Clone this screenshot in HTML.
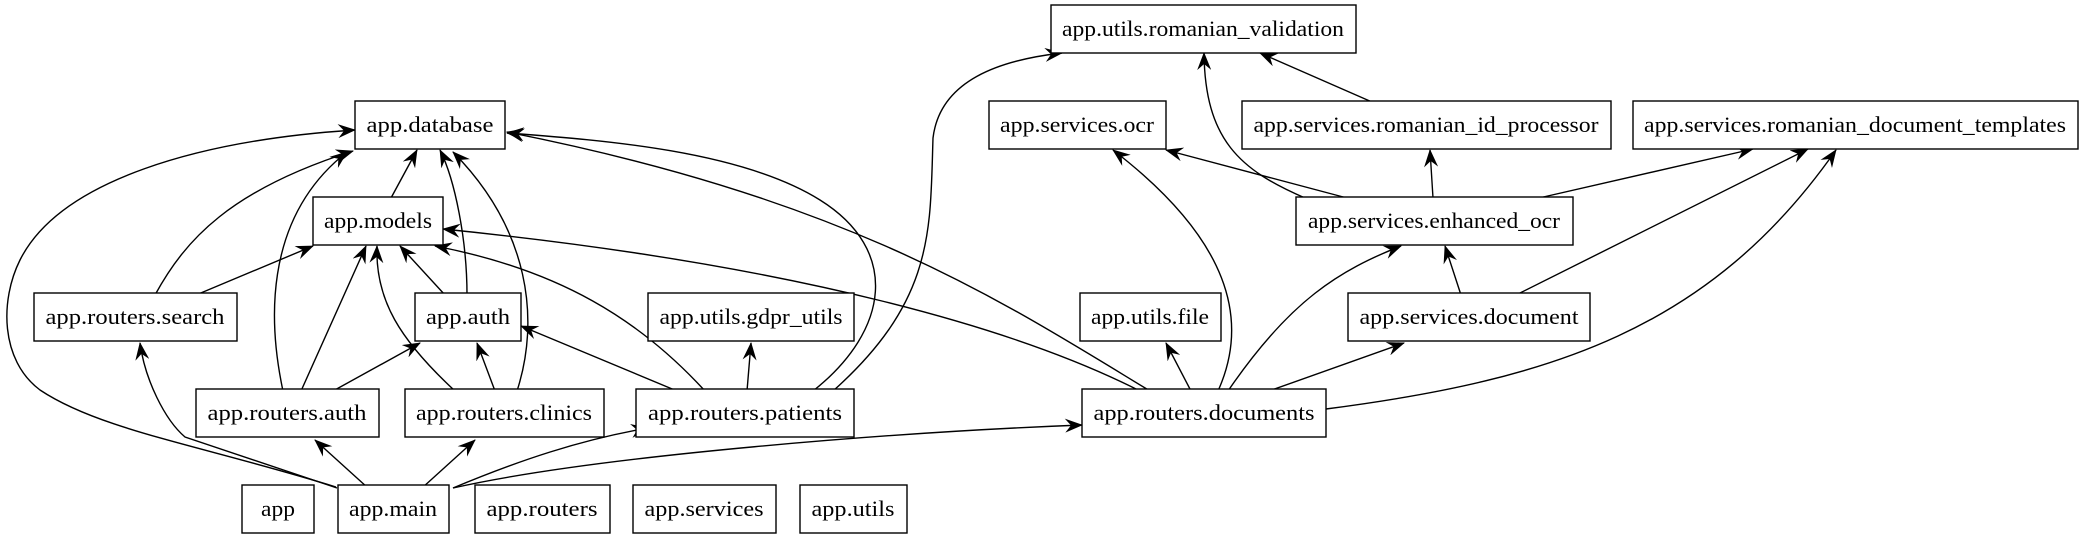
<!DOCTYPE html>
<html><head><meta charset="utf-8"><style>
html,body{margin:0;padding:0;background:#fff;}
svg{display:block;}
text{font-family:"Liberation Serif",serif;font-size:22px;fill:#000;}
</style></head><body>
<svg width="2082" height="539" viewBox="0 0 2082 539" xmlns="http://www.w3.org/2000/svg">
<defs>
<marker id="a" markerWidth="18" markerHeight="14" refX="17" refY="7" orient="auto" markerUnits="userSpaceOnUse">
<path d="M0,0 L18,7 L0,14 L6,7 z" fill="#000"/>
</marker>
</defs>
<g fill="none" stroke="#000" stroke-width="1.4" marker-end="url(#a)">
<path d="M391,198 L417,150"/>
<path d="M155,295 C185,240 230,190 353,151"/>
<path d="M196,295 L313,246"/>
<path d="M445,295 L400,246"/>
<path d="M467,295 C467,240 455,180 440,150"/>
<path d="M283,391 C270,330 260,220 347,152"/>
<path d="M301,391 L366,246"/>
<path d="M333,391 L420,343"/>
<path d="M455,391 C400,340 375,300 377,246"/>
<path d="M495,391 L477,343"/>
<path d="M517,391 C540,320 530,230 453,152"/>
<path d="M705,391 C640,320 560,270 435,246"/>
<path d="M677,391 L521,326"/>
<path d="M747,391 L751,343"/>
<path d="M813,391 C890,330 900,250 820,200 C740,150 600,140 507,133"/>
<path d="M833,391 C935,300 930,230 933,138 C940,80 1000,60 1062,53"/>
<path d="M337,488 L185,437 C165,420 145,380 140,343"/>
<path d="M336,487 C200,445 100,430 40,390 C0,360 0,300 20,260 C60,180 200,140 355,130"/>
<path d="M368,488 L315,440"/>
<path d="M422,488 L475,440"/>
<path d="M453,488 C520,460 580,440 648,428"/>
<path d="M453,488 C600,455 900,432 1082,425"/>
<path d="M1150,391 C1000,300 850,200 507,132"/>
<path d="M1140,391 C1020,330 800,265 443,229"/>
<path d="M1191,391 L1166,343"/>
<path d="M1218,391 C1250,320 1230,240 1113,150"/>
<path d="M1228,391 C1290,300 1340,270 1401,246"/>
<path d="M1269,391 L1404,343"/>
<path d="M1326,409 C1550,380 1710,330 1836,150"/>
<path d="M1347,198 L1166,150"/>
<path d="M1305,198 C1240,170 1205,140 1204,53"/>
<path d="M1433,198 L1430,150"/>
<path d="M1539,198 L1753,149"/>
<path d="M1372,102 L1260,53"/>
<path d="M1461,295 L1445,246"/>
<path d="M1516,295 L1808,149"/>
</g>
<g fill="#fff" stroke="#000" stroke-width="1.4">
<rect x="355" y="101" width="150" height="48"/>
<rect x="313" y="197" width="130" height="48"/>
<rect x="34" y="293" width="203" height="48"/>
<rect x="415" y="293" width="106" height="48"/>
<rect x="648" y="293" width="206" height="48"/>
<rect x="196" y="389" width="183" height="48"/>
<rect x="405" y="389" width="199" height="48"/>
<rect x="636" y="389" width="218" height="48"/>
<rect x="242" y="485" width="72" height="48"/>
<rect x="338" y="485" width="111" height="48"/>
<rect x="475" y="485" width="135" height="48"/>
<rect x="633" y="485" width="143" height="48"/>
<rect x="800" y="485" width="107" height="48"/>
<rect x="1051" y="5" width="305" height="48"/>
<rect x="989" y="101" width="177" height="48"/>
<rect x="1242" y="101" width="369" height="48"/>
<rect x="1633" y="101" width="445" height="48"/>
<rect x="1296" y="197" width="277" height="48"/>
<rect x="1080" y="293" width="141" height="48"/>
<rect x="1348" y="293" width="242" height="48"/>
<rect x="1082" y="389" width="244" height="48"/>
</g>
<g text-anchor="middle">
<text x="430" y="132" textLength="127" lengthAdjust="spacingAndGlyphs">app.database</text>
<text x="378" y="228" textLength="108" lengthAdjust="spacingAndGlyphs">app.models</text>
<text x="135" y="324" textLength="179" lengthAdjust="spacingAndGlyphs">app.routers.search</text>
<text x="468" y="324" textLength="84" lengthAdjust="spacingAndGlyphs">app.auth</text>
<text x="751" y="324" textLength="183" lengthAdjust="spacingAndGlyphs">app.utils.gdpr_utils</text>
<text x="287" y="420" textLength="159" lengthAdjust="spacingAndGlyphs">app.routers.auth</text>
<text x="504" y="420" textLength="176" lengthAdjust="spacingAndGlyphs">app.routers.clinics</text>
<text x="745" y="420" textLength="194" lengthAdjust="spacingAndGlyphs">app.routers.patients</text>
<text x="278" y="516" textLength="34" lengthAdjust="spacingAndGlyphs">app</text>
<text x="393" y="516" textLength="88" lengthAdjust="spacingAndGlyphs">app.main</text>
<text x="542" y="516" textLength="111" lengthAdjust="spacingAndGlyphs">app.routers</text>
<text x="704" y="516" textLength="119" lengthAdjust="spacingAndGlyphs">app.services</text>
<text x="853" y="516" textLength="83" lengthAdjust="spacingAndGlyphs">app.utils</text>
<text x="1203" y="36" textLength="282" lengthAdjust="spacingAndGlyphs">app.utils.romanian_validation</text>
<text x="1077" y="132" textLength="154" lengthAdjust="spacingAndGlyphs">app.services.ocr</text>
<text x="1426" y="132" textLength="345" lengthAdjust="spacingAndGlyphs">app.services.romanian_id_processor</text>
<text x="1855" y="132" textLength="422" lengthAdjust="spacingAndGlyphs">app.services.romanian_document_templates</text>
<text x="1434" y="228" textLength="252" lengthAdjust="spacingAndGlyphs">app.services.enhanced_ocr</text>
<text x="1150" y="324" textLength="118" lengthAdjust="spacingAndGlyphs">app.utils.file</text>
<text x="1469" y="324" textLength="219" lengthAdjust="spacingAndGlyphs">app.services.document</text>
<text x="1204" y="420" textLength="221" lengthAdjust="spacingAndGlyphs">app.routers.documents</text>
</g>
</svg>
</body></html>
